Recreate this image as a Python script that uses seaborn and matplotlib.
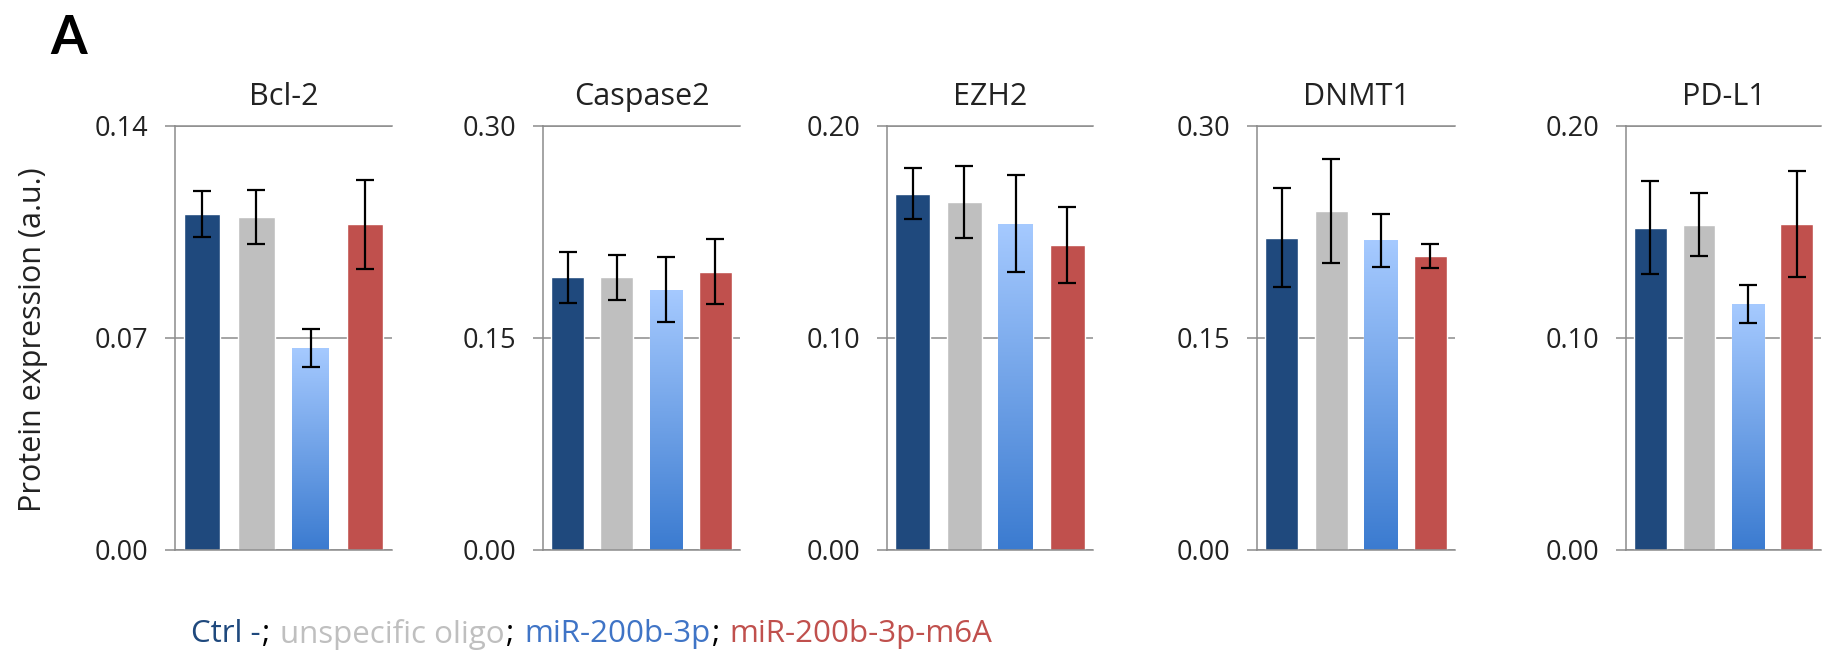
import numpy as np
import pandas as pd
import matplotlib
matplotlib.use("Agg")
import matplotlib.pyplot as plt
from matplotlib.colors import LinearSegmentedColormap
import seaborn as sns

# ---------------- data ----------------
markers = ["Bcl-2", "Caspase2", "EZH2", "DNMT1", "PD-L1"]
conditions = ["Ctrl -", "unspecific oligo", "miR-200b-3p", "miR-200b-3p-m6A"]

bcl2_vals = [0.111, 0.110, 0.0667, 0.1075]
bcl2_err = [0.0075, 0.0088, 0.0062, 0.0147]
casp2_vals = [0.193, 0.193, 0.184, 0.197]
casp2_err = [0.018, 0.016, 0.023, 0.023]
ezh2_vals = [0.168, 0.164, 0.154, 0.144]
ezh2_err = [0.012, 0.017, 0.023, 0.018]
dnmt1_vals = [0.221, 0.240, 0.219, 0.208]
dnmt1_err = [0.035, 0.037, 0.019, 0.0086]
pdl1_vals = [0.152, 0.1535, 0.116, 0.154]
pdl1_err = [0.022, 0.015, 0.009, 0.025]

y_max = [0.14, 0.30, 0.20, 0.30, 0.20]
tick_values = [[0.0, 0.07, 0.14], [0.0, 0.15, 0.30], [0.0, 0.10, 0.20],
               [0.0, 0.15, 0.30], [0.0, 0.10, 0.20]]
tick_labels = [["0.00", "0.07", "0.14"], ["0.00", "0.15", "0.30"],
               ["0.00", "0.10", "0.20"], ["0.00", "0.15", "0.30"],
               ["0.00", "0.10", "0.20"]]

all_vals = [bcl2_vals, casp2_vals, ezh2_vals, dnmt1_vals, pdl1_vals]
all_err = [bcl2_err, casp2_err, ezh2_err, dnmt1_err, pdl1_err]

rows = []
for m, vals, errs in zip(markers, all_vals, all_err):
    for c, v, e in zip(conditions, vals, errs):
        rows.append({"marker": m, "condition": c, "value": v, "err": e})
df = pd.DataFrame(rows)

# ---------------- style ----------------
sns.set_theme(style="white")
plt.rcParams["font.family"] = ["Open Sans", "DejaVu Sans"]

navy = "#1F497D"
grey = "#BFBFBF"
blue = "#4A86D8"
legend_blue = "#3F74C6"
red = "#C0504D"
palette = {conditions[0]: navy, conditions[1]: grey,
           conditions[2]: blue, conditions[3]: red}
grad_cmap = LinearSegmentedColormap.from_list("g", ["#3B7BD0", "#A6CAFF"])
axis_grey = "#8C8C8C"
text_col = "#222222"

W, H = 1836, 664
fig = plt.figure(figsize=(W / 100, H / 100), dpi=100)

ax_left_px = [175, 543, 887, 1257, 1626]
ax_width_px = [217, 197, 206, 198, 195]
ax_top_px, ax_bot_px = 126, 550

for i, m in enumerate(markers):
    ax = fig.add_axes([ax_left_px[i] / W, 1 - ax_bot_px / H,
                       ax_width_px[i] / W, (ax_bot_px - ax_top_px) / H])
    sub = df[df["marker"] == m]
    sns.barplot(data=sub, x="condition", y="value", hue="condition",
                order=conditions, hue_order=conditions, palette=palette,
                dodge=False, width=0.67, errorbar=None, legend=False,
                saturation=1, ax=ax, zorder=2)
    ax.set_xlim(-0.5, 3.5)
    ax.set_ylim(0, y_max[i])

    patches = sorted([p for p in ax.patches if p.get_height() > 0],
                     key=lambda p: p.get_x())
    # gradient fill for the miR-200b-3p bar
    gp = patches[2]
    x0, w = gp.get_x(), gp.get_width()
    y0, h = gp.get_y(), gp.get_height()
    grad = np.linspace(0, 1, 256).reshape(-1, 1)
    im = ax.imshow(grad, extent=[x0, x0 + w, y0, y0 + h], origin="lower",
                   aspect="auto", cmap=grad_cmap, zorder=2.5)
    im.set_clip_path(gp)
    ax.set_xlim(-0.5, 3.5)
    ax.set_ylim(0, y_max[i])
    ax.set_aspect("auto")

    centers = [p.get_x() + p.get_width() / 2 for p in patches]
    ax.errorbar(centers, sub["value"].values, yerr=sub["err"].values,
                fmt="none", ecolor="black", elinewidth=1.6, capsize=6.5,
                capthick=1.6, zorder=4)

    ax.set_yticks(tick_values[i])
    ax.set_yticklabels(tick_labels[i])
    ax.set_xticks([])
    ax.set_xlabel("")
    ax.set_ylabel("")
    ax.yaxis.grid(True, color=axis_grey, linewidth=1.1, zorder=1)
    ax.set_axisbelow(True)
    for s in ["top", "bottom", "left"]:
        ax.spines[s].set_visible(True)
        ax.spines[s].set_color(axis_grey)
        ax.spines[s].set_linewidth(1.1)
    ax.spines["right"].set_visible(False)
    ax.tick_params(axis="y", direction="out", length=7, width=1.1,
                   color=axis_grey, pad=12, labelsize=19.5,
                   labelcolor=text_col, left=True)
    ax.set_title(m, fontsize=22, color=text_col, pad=15)

fig.text(33 / W, 1 - 340 / H, "Protein expression (a.u.)", rotation=90,
         ha="center", va="center", fontsize=22, color=text_col)
fig.text(50 / W, 1 - 14 / H, "A", ha="left", va="top", fontsize=38,
         fontweight="bold", color="black", family=["Lato", "DejaVu Sans"])

# coloured legend line, pieces placed one after another
pieces = [("Ctrl -", navy), (";", "black"), ("unspecific oligo", grey),
          (";", "black"), ("miR-200b-3p", legend_blue), (";", "black"),
          ("miR-200b-3p-m6A", red)]
prev = fig.text(191 / W, 1 - 634 / H, pieces[0][0], ha="left", va="center",
                fontsize=22.5, color=pieces[0][1])
for s, c in pieces[1:]:
    gap = 1 if s == ";" else 7
    prev = fig.axes[0].annotate(s, xy=(1, 0.5), xycoords=prev,
                                xytext=(gap, 0), textcoords="offset points",
                                ha="left", va="center", fontsize=22.5,
                                color=c, annotation_clip=False)

fig.savefig("out.png", dpi=100)
